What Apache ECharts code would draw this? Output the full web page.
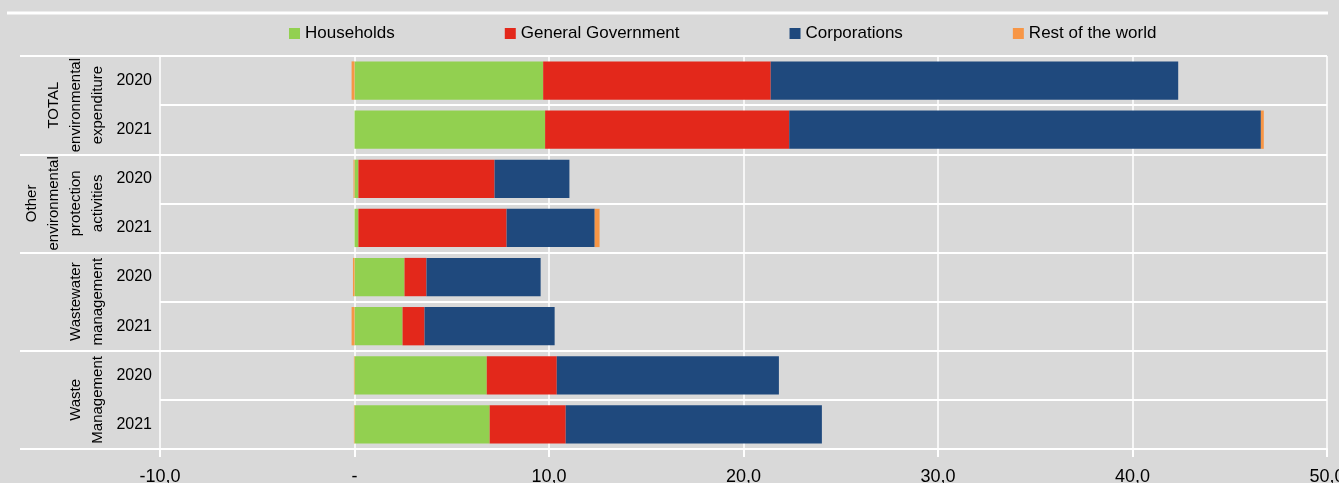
<!DOCTYPE html>
<html>
<head>
<meta charset="utf-8">
<script src="https://cdn.jsdelivr.net/npm/echarts@6/dist/echarts.min.js"></script>
<style>
html,body{margin:0;padding:0;background:#d9d9d9;}
#chart{width:1339px;height:483px;}
</style>
</head>
<body>
<div id="chart"></div>
<script>
const years = ['2020', '2021', '2020', '2021', '2020', '2021', '2020', '2021'];
const groups = ['TOTAL\nenvironmental\nexpenditure', 'Other\nenvironmental\nprotection\nactivities', 'Wastewater\nmanagement', 'Waste\nManagement'];
const seriesNames = ['Households', 'General Government', 'Corporations', 'Rest of the world'];
const households = [9.7, 9.8, 0.2, 0.2, 2.57, 2.47, 6.8, 6.95];
const government = [11.7, 12.55, 7.0, 7.62, 1.13, 1.13, 3.6, 3.91];
const corporations = [20.95, 24.25, 3.85, 4.53, 5.87, 6.69, 11.42, 13.17];
const restOfWorld = [-0.15, 0.15, -0.05, 0.25, -0.08, -0.15, -0.03, -0.03];
const xTicks = { min: -10, max: 50, interval: 10 };

const FONT = "'Liberation Sans Narrow', 'Arial Narrow', 'Liberation Sans', sans-serif";
const colors = ['#92d050', '#e3281b', '#1f497d', '#f79646'];
const values = [households, government, corporations, restOfWorld];

const chart = echarts.init(document.getElementById('chart'), null, { renderer: 'canvas' });
const option = {
  backgroundColor: '#d9d9d9',
  animation: false,
  color: colors,
  textStyle: { fontFamily: FONT },
  legend: {
    data: seriesNames,
    left: 284,
    top: 20,
    itemGap: 110,
    itemWidth: 11,
    itemHeight: 11,
    icon: 'rect',
    textStyle: { fontFamily: FONT, fontSize: 17, color: '#000' }
  },
  grid: { left: 160, right: 12, top: 56, bottom: 34, containLabel: false, outerBoundsMode: 'none' },
  xAxis: {
    type: 'value',
    min: xTicks.min,
    max: xTicks.max,
    interval: xTicks.interval,
    axisLine: { show: true, lineStyle: { color: '#fff', width: 2 } },
    axisTick: { show: true, length: 8, lineStyle: { color: '#fff', width: 2 } },
    splitLine: { show: true, lineStyle: { color: '#fff', width: 1.5 } },
    axisLabel: {
      margin: 19,
      fontFamily: FONT, fontSize: 18, color: '#000',
      formatter: v => v === 0 ? '-' : v.toFixed(1).replace('.', ',')
    }
  },
  yAxis: [
    {
      type: 'category',
      data: years,
      inverse: true,
      position: 'left',
      axisLine: { show: false },
      axisTick: { show: true, length: 43, interval: 0, lineStyle: { color: '#fff', width: 2 } },
      splitLine: { show: true, interval: 0, lineStyle: { color: '#fff', width: 2 } },
      axisLabel: { margin: 8, fontFamily: FONT, fontSize: 16, color: '#000', interval: 0 }
    },
    {
      type: 'category',
      data: groups,
      inverse: true,
      position: 'left',
      axisLine: { show: false },
      axisTick: { show: true, length: 140, interval: 0, lineStyle: { color: '#fff', width: 2 } },
      splitLine: { show: false },
      axisLabel: { margin: 51, rotate: 90, fontFamily: FONT, fontSize: 15, lineHeight: 22, color: '#000', interval: 0 }
    }
  ],
  graphic: [
    { type: 'line', shape: { x1: 7, y1: 13, x2: 1328, y2: 13 }, style: { stroke: '#fff', lineWidth: 3 }, silent: true }
  ],
  series: seriesNames.map((name, i) => ({
    name: name,
    type: 'bar',
    stack: 'total',
    yAxisIndex: 0,
    barCategoryGap: '22%',
    data: values[i],
    itemStyle: { color: colors[i] }
  }))
};
chart.setOption(option);
</script>
</body>
</html>
